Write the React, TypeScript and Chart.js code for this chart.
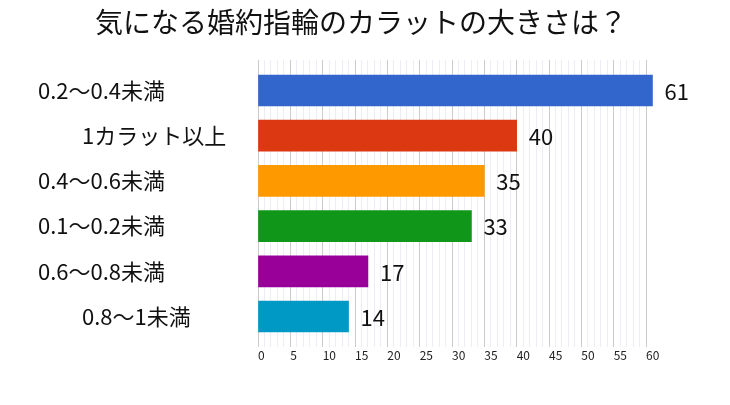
import React, { useEffect, useRef } from "react";
import { Chart, registerables } from "chart.js";

Chart.register(...registerables);

const TITLE = "気になる婚約指輪のカラットの大きさは？";
const categories = ["0.2〜0.4未満", "　　1カラット以上", "0.4〜0.6未満", "0.1〜0.2未満", "0.6〜0.8未満", "　　0.8〜1未満"];
const values = [61, 40, 35, 33, 17, 14];
const barColors = ["#3366cc", "#dc3912", "#ff9900", "#109618", "#990099", "#0099c6"];
const xTickLabels = [0, 5, 10, 15, 20, 25, 30, 35, 40, 45, 50, 55, 60];

const FONT = "'Noto Sans CJK JP', 'Noto Sans', sans-serif";

const valueLabelPlugin = {
  id: "valueLabels",
  afterDatasetsDraw(chart: any) {
    const ctx = chart.ctx;
    const meta = chart.getDatasetMeta(0);
    ctx.save();
    ctx.font = `22px ${FONT}`;
    ctx.fillStyle = "#111";
    ctx.textAlign = "left";
    ctx.textBaseline = "middle";
    meta.data.forEach((el: any, i: number) => {
      ctx.fillText(String(values[i]), el.x + 12, el.y + 1);
    });
    ctx.restore();
  },
};

const spacerAxis = (position: string, width: number) => ({
  type: "linear",
  position,
  display: true,
  weight: 10,
  afterFit: (scale: any) => {
    scale.width = width;
  },
  ticks: { display: false },
  grid: { display: false },
  border: { display: false },
});

export default function App() {
  const ref = useRef<HTMLCanvasElement | null>(null);
  useEffect(() => {
    if (!ref.current) return;
    const chart = new Chart(ref.current, {
      type: "bar",
      data: {
        datasets: [
          {
            data: values.map((v, i) => ({ x: v, y: i })),
            backgroundColor: barColors,
            barThickness: 31,
            clip: false as any,
            xAxisID: "x",
            yAxisID: "y",
          },
        ],
      },
      plugins: [valueLabelPlugin],
      options: {
        animation: false,
        responsive: true,
        maintainAspectRatio: false,
        indexAxis: "y",
        layout: { padding: { left: 0, right: 8, top: 0, bottom: 28 } },
        plugins: {
          legend: { display: false },
          tooltip: { enabled: false },
          title: {
            display: true,
            text: TITLE,
            color: "#111",
            font: { family: FONT, size: 28, weight: "normal", lineHeight: 1 },
            padding: { top: 0, bottom: 24 },
          },
        },
        scales: {
          x: {
            type: "linear",
            min: 0,
            max: 60,
            offset: false,
            afterBuildTicks: (scale: any) => {
              const t = [];
              for (let v = 0; v <= 60; v++) t.push({ value: v });
              scale.ticks = t;
            },
            afterFit: (scale: any) => {
              scale.height = 22;
            },
            ticks: {
              autoSkip: false,
              maxRotation: 0,
              align: "start",
              padding: 1,
              color: "#222",
              font: { family: FONT, size: 12 },
              callback: (v: any) => (xTickLabels.includes(Number(v)) ? String(v) : ""),
            },
            grid: {
              drawTicks: false,
              color: (c: any) => (c.tick && c.tick.value % 5 === 0 ? "#cccccc" : "#ededf5"),
            },
            border: { display: false },
          },
          y: {
            type: "linear",
            reverse: true,
            offset: false,
            bounds: "data",
            min: -0.675,
            max: 5.675,
            weight: 0,
            afterBuildTicks: (scale: any) => {
              scale.ticks = categories.map((_, i) => ({ value: i }));
            },
            afterFit: (scale: any) => {
              scale.width = 220;
            },
            ticks: {
              autoSkip: false,
              crossAlign: "far",
              color: "#111",
              font: { family: FONT, size: 22 },
              callback: (v: any) => categories[Number(v)] ?? "",
            },
            grid: { display: false },
            border: { display: false },
          },
          padLeft: spacerAxis("left", 30),
          padRight: spacerAxis("right", 68),
        },
      } as any,
    });
    return () => chart.destroy();
  }, []);
  return (
    <div style={{ width: 714, height: 389, position: "relative" }}>
      <canvas ref={ref} />
    </div>
  );
}
